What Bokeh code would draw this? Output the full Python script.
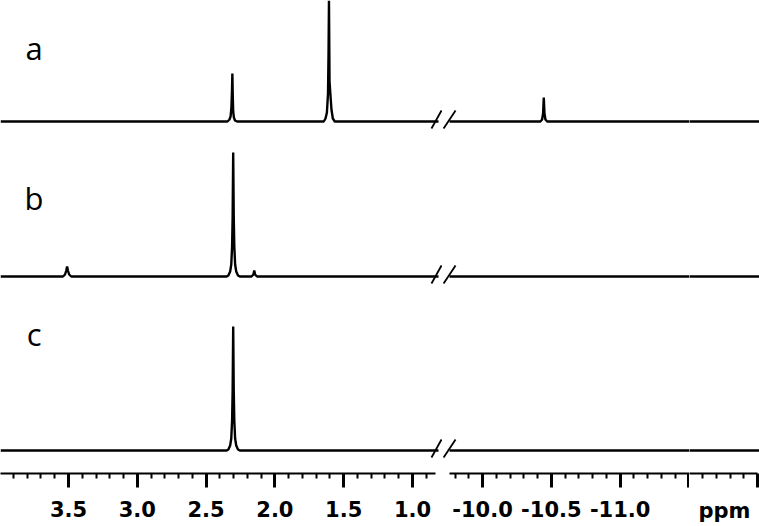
from bokeh.plotting import figure
from bokeh.layouts import row
from bokeh.models import Range1d, FixedTicker, Label
from bokeh.embed import file_html
from bokeh.resources import INLINE

# ---------------- data (ppm, intensity) ----------------
# spectrum a, left part
a_left_ppm = [3.994, 2.345, 2.33, 2.322, 2.316, 2.312, 2.309, 2.306, 2.303, 2.298, 2.29, 2.275,
              1.645, 1.632, 1.622, 1.614, 1.610, 1.607, 1.603, 1.596, 1.589, 1.579, 1.565, 0.811]
a_left_int = [0, 0, 2, 5, 14, 30, 48, 25, 10, 4, 1, 0,
              0, 3, 9, 28, 70, 121, 40, 26, 12, 3, 0, 0]
# spectrum a, right part
a_right_ppm = [-9.76, -10.42, -10.433, -10.440, -10.445, -10.450, -10.457, -10.47, -12.013]
a_right_int = [0, 0, 2, 8, 24, 8, 2, 0, 0]

# spectrum b, left part
b_left_ppm = [3.994, 3.54, 3.525, 3.516, 3.510, 3.504, 3.495, 3.48,
              2.35, 2.338, 2.325, 2.317, 2.311, 2.307, 2.303, 2.299, 2.295, 2.289, 2.281, 2.268, 2.255,
              2.17, 2.156, 2.150, 2.144, 2.13, 0.811]
b_left_int = [0, 0, 2, 6, 10, 6, 2, 0,
              0, 1, 5, 12, 30, 60, 124, 60, 30, 12, 5, 1, 0,
              0, 2, 6, 2, 0, 0]
b_right_ppm = [-9.76, -12.013]
b_right_int = [0, 0]

# spectrum c, left part
c_left_ppm = [3.994, 2.35, 2.338, 2.325, 2.317, 2.311, 2.307, 2.303, 2.299, 2.295, 2.289, 2.281, 2.268, 2.255, 0.811]
c_left_int = [0, 0, 1, 5, 12, 30, 60, 124, 60, 30, 12, 5, 1, 0, 0]
c_right_ppm = [-9.76, -12.013]
c_right_int = [0, 0]

labels = ["a", "b", "c"]
offsets = [352, 197, 23]          # vertical offset of each trace

left_ticks = [3.5, 3.0, 2.5, 2.0, 1.5, 1.0]
left_tick_labels = ["3.5", "3.0", "2.5", "2.0", "1.5", "1.0"]
left_minor = [round(3.9 - 0.1 * i, 1) for i in range(31)]
right_ticks = [-10.0, -10.5, -11.0, -11.5]
right_tick_labels = ["-10.0", "-10.5", "-11.0", ""]
right_minor = [round(-9.8 - 0.1 * i, 1) for i in range(17)]
end_ticks = [-12.0]
end_tick_labels = [""]
end_minor = [-11.6, -11.7, -11.8, -11.9]
unit_label = "ppm"

# ---------------- layout ----------------
H = 526
BOTTOM = 53
W_LEFT = 442
W_RIGHT = 247
W_END = 70
YR = (0, 473)

def make_fig(width, xr, bounds, ticks, minor, tick_labels):
    p = figure(width=width, height=H, x_range=Range1d(*xr), y_range=Range1d(*YR),
               output_backend="svg", toolbar_location=None, y_axis_location=None,
               min_border_left=0, min_border_right=0, min_border_top=0,
               min_border_bottom=BOTTOM)
    p.outline_line_color = None
    p.xgrid.visible = False
    p.ygrid.visible = False
    p.background_fill_color = "white"
    p.border_fill_color = "white"
    ax = p.xaxis[0]
    ax.bounds = bounds
    ax.ticker = FixedTicker(ticks=ticks, minor_ticks=minor)
    ax.major_label_overrides = {t: s for t, s in zip(ticks, tick_labels)}
    ax.axis_line_width = 2
    ax.axis_line_color = "black"
    ax.major_tick_line_width = 3
    ax.major_tick_line_color = "black"
    ax.minor_tick_line_width = 2
    ax.minor_tick_line_color = "black"
    ax.major_tick_in = 0
    ax.major_tick_out = 14
    ax.minor_tick_in = 0
    ax.minor_tick_out = 5
    ax.major_label_standoff = 13
    ax.major_label_text_font = "DejaVu Sans"
    ax.major_label_text_font_style = "bold"
    ax.major_label_text_font_size = "21px"
    ax.major_label_text_color = "black"
    return p

left = make_fig(W_LEFT, (3.994, 0.782), (3.994, 0.833), left_ticks, left_minor, left_tick_labels)
right = make_fig(W_RIGHT, (-9.709, -11.504), (-9.76, -11.504), right_ticks, right_minor, right_tick_labels)
end = make_fig(W_END, (-11.504, -12.013), (-11.504, -12.0), end_ticks, end_minor, end_tick_labels)

eax = end.xaxis[0]
eax.axis_label = unit_label
eax.axis_label_standoff = 11
eax.axis_label_text_font = "DejaVu Sans"
eax.axis_label_text_font_style = "bold"
eax.axis_label_text_font_size = "21px"
eax.axis_label_text_color = "black"

lefts = [(a_left_ppm, a_left_int), (b_left_ppm, b_left_int), (c_left_ppm, c_left_int)]
rights = [(a_right_ppm, a_right_int), (b_right_ppm, b_right_int), (c_right_ppm, c_right_int)]

for (xs, ys), off in zip(lefts, offsets):
    left.line(xs, [y + off for y in ys], line_color="black", line_width=2.4)
for (xs, ys), off in zip(rights, offsets):
    for p in (right, end):
        p.line(xs, [y + off for y in ys], line_color="black", line_width=2.4)

# axis-break marks "//"
slash_left = (0.862, 0.789)
slash_right = (-9.717, -9.804)
slash_dy = (-7, 11)
for off in offsets:
    left.line(list(slash_left), [off + d for d in slash_dy], line_color="black", line_width=1.8)
    right.line(list(slash_right), [off + d for d in slash_dy], line_color="black", line_width=1.8)

# panel letters
label_pos_x = 3.75
label_base = [426, 276, 140]
for t, yb in zip(labels, label_base):
    left.add_layout(Label(x=label_pos_x, y=yb, text=t, text_align="center",
                          text_baseline="alphabetic", text_font="Open Sans",
                          text_font_size="31px", text_color="black"))

layout = row(left, right, end, spacing=0)
open("out.html", "w").write(file_html(layout, INLINE))
